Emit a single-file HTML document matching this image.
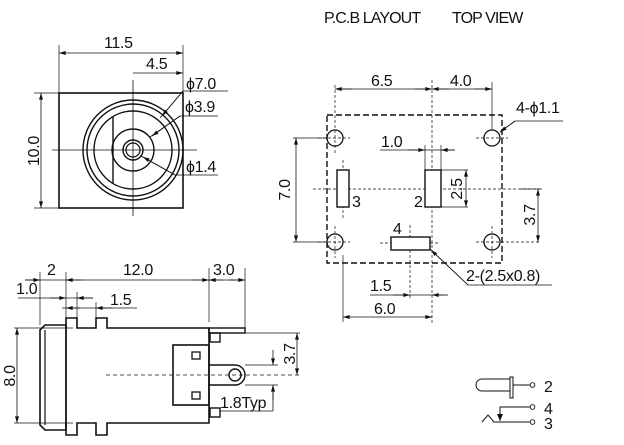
<!DOCTYPE html>
<html><head><meta charset="utf-8"><style>
html,body{margin:0;padding:0;background:#fff;}
svg{display:block}
text{font-family:"Liberation Sans",sans-serif;font-size:16px;fill:#111;letter-spacing:-0.3px}
</style></head><body>
<svg width="624" height="445" viewBox="0 0 624 445" xmlns="http://www.w3.org/2000/svg">
<defs>
<marker id="a" viewBox="0 0 10 6" refX="10" refY="3" markerWidth="12" markerHeight="4" orient="auto-start-reverse" markerUnits="userSpaceOnUse"><path d="M0,0L10,3L0,6z" fill="#111"/></marker>
</defs>
<g stroke="#111" fill="none" stroke-width="1">
<rect x="59" y="93" width="124" height="115" stroke-width="1.6"/>
<circle cx="133" cy="150" r="50" stroke-width="1.4"/>
<circle cx="133" cy="150" r="46" stroke-width="1.4"/>
<circle cx="133" cy="150" r="39" stroke-width="1.4"/>
<circle cx="133" cy="150" r="21" stroke-width="1.4"/>
<circle cx="133" cy="150" r="10" stroke-width="1.4"/>
<circle cx="133" cy="150" r="7" stroke-width="1.2"/>
<line x1="113" y1="117" x2="113" y2="183" stroke-width="1.4"/>
<line x1="52" y1="150" x2="197" y2="150" stroke-width="0.8"/>
<line x1="133" y1="80" x2="133" y2="216" stroke-width="0.8"/>
<line x1="59" y1="45" x2="59" y2="93" stroke-width="0.7"/>
<line x1="183" y1="45" x2="183" y2="93" stroke-width="0.7"/>
<line x1="59" y1="53" x2="183" y2="53" stroke-width="0.8" marker-start="url(#a)" marker-end="url(#a)"/>
<line x1="133" y1="73" x2="183" y2="73" stroke-width="0.8" marker-end="url(#a)"/>
<line x1="34" y1="93" x2="59" y2="93" stroke-width="0.7"/>
<line x1="34" y1="208" x2="59" y2="208" stroke-width="0.7"/>
<line x1="41" y1="93" x2="41" y2="208" stroke-width="0.8" marker-start="url(#a)" marker-end="url(#a)"/>
<polyline points="160,118 183,91 228,91" stroke-width="0.8"/>
<line x1="183" y1="91" x2="162" y2="116" stroke-width="0.8" marker-end="url(#a)"/>
<polyline points="150,137 180,116 218,116" stroke-width="0.8"/>
<line x1="180" y1="116" x2="152" y2="136" stroke-width="0.8" marker-end="url(#a)"/>
<polyline points="141,156 175,175 218,175" stroke-width="0.8"/>
<line x1="175" y1="175" x2="143" y2="157" stroke-width="0.8" marker-end="url(#a)"/>

<path d="M66,328 V318 H77 V328 H96 V318 H107 V328 H209 V423 H107 V435 H96 V423 H77 V435 H66 V423" stroke-width="1.6"/>
<path d="M66,325 H45 L40,330 V425 L45,430 H66 Z" stroke-width="1.6"/>
<line x1="45" y1="330" x2="45" y2="425" stroke-width="1.2"/>
<line x1="66" y1="325" x2="66" y2="430" stroke-width="1.4"/>
<rect x="209" y="328" width="36" height="5" stroke-width="1.4"/>
<rect x="210" y="333" width="10" height="9" stroke-width="1.4"/>
<rect x="210" y="408" width="10" height="9" stroke-width="1.4"/>
<rect x="173" y="345" width="36" height="60" stroke-width="1.6"/>
<rect x="192" y="352" width="8" height="7" stroke-width="1.3"/>
<rect x="192" y="392" width="8" height="7" stroke-width="1.3"/>
<path d="M209,365 H235 A10,10 0 0 1 235,385 H209" stroke-width="1.4"/>
<circle cx="235" cy="375" r="6" stroke-width="1.4"/>
<line x1="106" y1="375" x2="300" y2="375" stroke-width="0.8" stroke-dasharray="4,3"/>
<line x1="40" y1="272" x2="40" y2="325" stroke-width="0.7"/>
<line x1="66" y1="272" x2="66" y2="318" stroke-width="0.7"/>
<line x1="209" y1="268" x2="209" y2="322" stroke-width="0.7"/>
<line x1="245" y1="268" x2="245" y2="328" stroke-width="0.7"/>
<line x1="25" y1="280" x2="245" y2="280" stroke-width="0.8"/>
<line x1="25" y1="280" x2="40" y2="280" marker-end="url(#a)" stroke-width="0.8"/>
<line x1="82" y1="280" x2="66" y2="280" marker-end="url(#a)" stroke-width="0.8"/>
<line x1="193" y1="280" x2="209" y2="280" marker-end="url(#a)" stroke-width="0.8"/>
<line x1="223" y1="280" x2="209" y2="280" marker-end="url(#a)" stroke-width="0.8"/>
<line x1="229" y1="280" x2="245" y2="280" marker-end="url(#a)" stroke-width="0.8"/>
<line x1="18" y1="298" x2="93" y2="298" stroke-width="0.8"/>
<line x1="50" y1="298" x2="66" y2="298" marker-end="url(#a)" stroke-width="0.8"/>
<line x1="93" y1="298" x2="77" y2="298" marker-end="url(#a)" stroke-width="0.8"/>
<line x1="77" y1="292" x2="77" y2="318" stroke-width="0.7"/>
<line x1="96" y1="302" x2="96" y2="318" stroke-width="0.7"/>
<line x1="62" y1="308" x2="137" y2="308" stroke-width="0.8"/>
<line x1="80" y1="308" x2="66" y2="308" marker-end="url(#a)" stroke-width="0.8"/>
<line x1="112" y1="308" x2="96" y2="308" marker-end="url(#a)" stroke-width="0.8"/>
<line x1="14" y1="328" x2="73" y2="328" stroke-width="0.7"/>
<line x1="14" y1="423" x2="73" y2="423" stroke-width="0.7"/>
<line x1="17" y1="328" x2="17" y2="423" stroke-width="0.8" marker-start="url(#a)" marker-end="url(#a)"/>
<line x1="245" y1="333" x2="300" y2="333" stroke-width="0.7"/>
<line x1="297" y1="333" x2="297" y2="375" stroke-width="0.8" marker-start="url(#a)" marker-end="url(#a)"/>
<line x1="245" y1="365" x2="278" y2="365" stroke-width="0.7"/>
<line x1="245" y1="385" x2="278" y2="385" stroke-width="0.7"/>
<line x1="273" y1="350" x2="273" y2="365" marker-end="url(#a)" stroke-width="0.8"/>
<line x1="273" y1="400" x2="273" y2="385" marker-end="url(#a)" stroke-width="0.8"/>
<line x1="273" y1="385" x2="273" y2="411" stroke-width="0.8"/>
<line x1="220" y1="411" x2="273" y2="411" stroke-width="0.8"/>

<rect x="327" y="115" width="175" height="148" stroke-width="1.4" stroke-dasharray="6,3"/>
<circle cx="335" cy="138" r="8" stroke-width="1.3"/>
<circle cx="492" cy="138" r="8" stroke-width="1.3"/>
<circle cx="335" cy="242" r="8" stroke-width="1.3"/>
<circle cx="492" cy="242" r="8" stroke-width="1.3"/>
<g stroke-width="0.7" stroke-dasharray="3,2">
<line x1="318" y1="138" x2="350" y2="138"/><line x1="476" y1="138" x2="508" y2="138"/>
<line x1="318" y1="242" x2="350" y2="242"/><line x1="476" y1="242" x2="540" y2="242"/>
<line x1="335" y1="85" x2="335" y2="154"/><line x1="492" y1="226" x2="492" y2="258"/>
<line x1="335" y1="226" x2="335" y2="258"/>
<line x1="313" y1="189" x2="540" y2="189"/>
<line x1="432" y1="80" x2="432" y2="325"/>
<line x1="410" y1="225" x2="410" y2="300"/>
<line x1="380" y1="243" x2="440" y2="243"/>
<line x1="343" y1="160" x2="343" y2="218"/>
</g>
<rect x="337" y="170" width="12" height="37" stroke-width="1.4" fill="#fff"/>
<rect x="425" y="170" width="16" height="37" stroke-width="1.4" fill="#fff"/>
<rect x="391" y="237" width="39" height="13" stroke-width="1.4" fill="#fff"/>
<line x1="492" y1="82" x2="492" y2="130" stroke-width="0.7"/>
<line x1="335" y1="89" x2="492" y2="89" stroke-width="0.8"/>
<line x1="335" y1="89" x2="352" y2="89" marker-start="url(#a)" stroke-width="0.8"/>
<line x1="415" y1="89" x2="432" y2="89" marker-end="url(#a)" stroke-width="0.8"/>
<line x1="449" y1="89" x2="432" y2="89" marker-end="url(#a)" stroke-width="0.8"/>
<line x1="475" y1="89" x2="492" y2="89" marker-end="url(#a)" stroke-width="0.8"/>
<polyline points="500,132 515,121 563,121" stroke-width="0.8"/>
<line x1="515" y1="121" x2="500" y2="132" marker-end="url(#a)" stroke-width="0.8"/>
<line x1="425" y1="145" x2="425" y2="170" stroke-width="0.7"/>
<line x1="441" y1="145" x2="441" y2="170" stroke-width="0.7"/>
<line x1="380" y1="150" x2="455" y2="150" stroke-width="0.8"/>
<line x1="408" y1="150" x2="425" y2="150" marker-end="url(#a)" stroke-width="0.8"/>
<line x1="455" y1="150" x2="441" y2="150" marker-end="url(#a)" stroke-width="0.8"/>
<line x1="441" y1="170" x2="468" y2="170" stroke-width="0.7"/>
<line x1="441" y1="207" x2="468" y2="207" stroke-width="0.7"/>
<line x1="466" y1="170" x2="466" y2="207" marker-start="url(#a)" marker-end="url(#a)" stroke-width="0.8"/>
<line x1="293" y1="138" x2="327" y2="138" stroke-width="0.7"/>
<line x1="293" y1="242" x2="327" y2="242" stroke-width="0.7"/>
<line x1="296" y1="138" x2="296" y2="242" marker-start="url(#a)" marker-end="url(#a)" stroke-width="0.8"/>
<line x1="520" y1="189" x2="542" y2="189" stroke-width="0.7"/>
<line x1="538" y1="189" x2="538" y2="242" marker-start="url(#a)" marker-end="url(#a)" stroke-width="0.8"/>
<polyline points="430,249 468,285 552,285" stroke-width="0.8"/>
<line x1="468" y1="285" x2="431" y2="250" marker-end="url(#a)" stroke-width="0.8"/>
<line x1="370" y1="295" x2="445" y2="295" stroke-width="0.8"/>
<line x1="393" y1="295" x2="410" y2="295" marker-end="url(#a)" stroke-width="0.8"/>
<line x1="448" y1="295" x2="432" y2="295" marker-end="url(#a)" stroke-width="0.8"/>
<line x1="343" y1="255" x2="343" y2="322" stroke-width="0.7"/>
<line x1="343" y1="317" x2="432" y2="317" marker-start="url(#a)" marker-end="url(#a)" stroke-width="0.8"/>

<path d="M510,379 H482 A6,6 0 0 0 482,391 H510" stroke-width="1"/>
<rect x="510" y="377" width="3" height="21" stroke-width="1"/>
<line x1="513" y1="385" x2="530" y2="385" stroke-width="1"/>
<circle cx="532.5" cy="385" r="2.3" stroke-width="0.9"/>
<polyline points="530,407 500,407 500,421" stroke-width="1"/>
<path d="M497,414 L500,421 L503,414z" fill="#111" stroke="none"/>
<polyline points="482,422 488,415 494,422 530,422" stroke-width="1"/>
<circle cx="532.5" cy="407" r="2.3" stroke-width="0.9"/>
<circle cx="532.5" cy="422" r="2.3" stroke-width="0.9"/>
</g>

<text x="324" y="23" style="font-size:16px;letter-spacing:-0.9px">P.C.B LAYOUT</text>
<text x="452" y="23" style="font-size:16px;letter-spacing:-0.9px">TOP VIEW</text>
<text x="104" y="48">11.5</text>
<text x="146" y="69">4.5</text>
<text x="186" y="89">ϕ7.0</text>
<text x="185" y="112">ϕ3.9</text>
<text x="186" y="172">ϕ1.4</text>
<text transform="translate(39,151) rotate(-90)" text-anchor="middle">10.0</text>
<text x="47" y="275">2</text>
<text x="123" y="275">12.0</text>
<text x="213" y="275">3.0</text>
<text x="16" y="294">1.0</text>
<text x="110" y="305">1.5</text>
<text transform="translate(15,376) rotate(-90)" text-anchor="middle">8.0</text>
<text transform="translate(295,354) rotate(-90)" text-anchor="middle">3.7</text>
<text x="220" y="408">1.8Typ</text>
<text x="371" y="86">6.5</text>
<text x="450" y="86">4.0</text>
<text x="516" y="113">4-ϕ1.1</text>
<text x="381" y="147">1.0</text>
<text transform="translate(462,189) rotate(-90)" text-anchor="middle">2.5</text>
<text transform="translate(290,190) rotate(-90)" text-anchor="middle">7.0</text>
<text transform="translate(535,215) rotate(-90)" text-anchor="middle">3.7</text>
<text x="352" y="207">3</text>
<text x="414" y="207">2</text>
<text x="393" y="234">4</text>
<text x="466" y="281">2-(2.5x0.8)</text>
<text x="370" y="291">1.5</text>
<text x="374" y="314">6.0</text>
<text x="544" y="392">2</text>
<text x="544" y="414">4</text>
<text x="544" y="429">3</text>
</svg>
</body></html>
